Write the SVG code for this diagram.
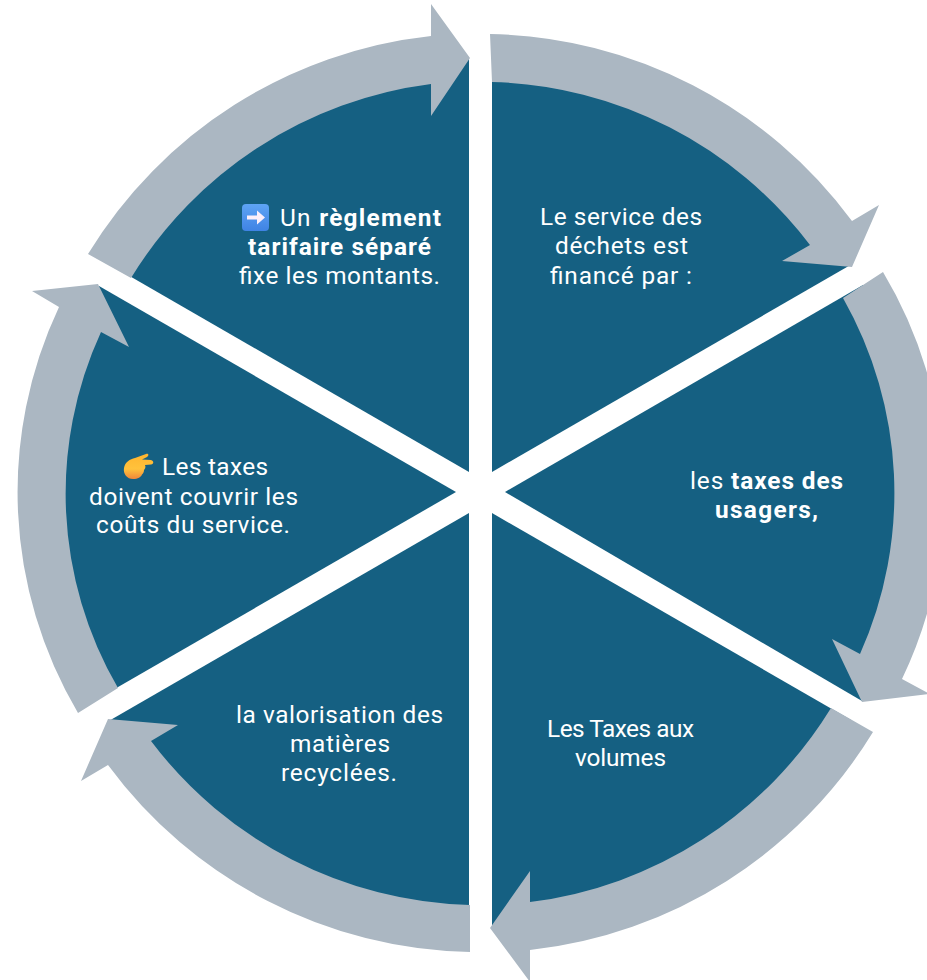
<svg xmlns="http://www.w3.org/2000/svg" width="927" height="980" viewBox="0 0 927 980">
<defs>
<linearGradient id="hand" x1="0" y1="0" x2="0" y2="1"><stop offset="0" stop-color="#ffb52e"/><stop offset="0.6" stop-color="#ffc23c"/><stop offset="1" stop-color="#f0863a"/></linearGradient>
<linearGradient id="sq" x1="0" y1="0" x2="0" y2="1"><stop offset="0" stop-color="#5ea4f5"/><stop offset="1" stop-color="#3f83e4"/></linearGradient>
</defs>
<style>
.w{fill:#156082}
.a{fill:#abb7c2}
text{font-family:Roboto,"Noto Sans","Liberation Sans",sans-serif;font-size:24.4px;fill:#fff;text-anchor:middle}
.b{font-weight:700}
</style>
<rect width="927" height="980" fill="#fff"/>
<g id="node-1"><path class="w" d="M492 472V58.2A435 435 0 0 1 850 265.3Z"/>
<text x="621" y="225" textLength="162">Le service des</text><text x="621.500" y="254" textLength="133">déchets est</text><text x="621" y="284" textLength="142">financé par :</text></g>
<g id="node-2"><path class="w" d="M505 492L863 285A435 435 0 0 1 862 701Z"/>
<text x="766.500" y="489" textLength="153">les <tspan class="b">taxes des</tspan></text><text x="766.500" y="518" class="b" textLength="103">usagers,</text></g>
<g id="node-3"><path class="w" d="M492 513L851 720A435 435 0 0 1 492 927.800Z"/>
<text x="620.500" y="737" textLength="147">Les Taxes aux</text><text x="620.500" y="766" textLength="91">volumes</text></g>
<g id="node-4"><path class="w" d="M469 513V927.800A435 435 0 0 1 110.500 720Z"/>
<text x="339.500" y="723" textLength="207">la valorisation des</text><text x="340" y="752" textLength="100">matières</text><text x="339" y="781" textLength="116">recyclées.</text></g>
<g id="node-5"><path class="w" d="M456 492L99 698A435 435 0 0 1 99 286Z"/>
<path d="M124 468C125 462 130 459 135 458L146 454C149 453 149 456 147 457L142 459.500L151 460C154 461 154 464 151 464.500L145 465C146 467 145 469 144 470C144 472 143 473.500 142 474.500C141 477 138 479 133 479C127 479 123 474 124 468Z" fill="url(#hand)"/>
<text x="215" y="475" textLength="106">Les taxes</text><text x="193.500" y="505" textLength="209">doivent couvrir les</text><text x="193" y="533" textLength="194">coûts du service.</text></g>
<g id="node-6"><path class="w" d="M469 472L110.500 265A435 435 0 0 1 469 58.200Z"/>
<rect x="242" y="204" width="27" height="27" rx="4" fill="url(#sq)"/>
<path d="M247 215.500H257V210.500L265 217.500L257 224.500V219.500H247Z" fill="#fbeffa"/>
<text x="360.500" y="226" textLength="161">Un <tspan class="b">règlement</tspan></text><text x="339.500" y="255" class="b" textLength="183">tarifaire séparé</text><text x="339.500" y="284" textLength="201">fixe les montants.</text></g>
<g id="connectors">
<path class="a" d="M490 34A460 460 0 0 1 852 221L879 205L852 267L782 261L810 245A413 413 0 0 0 492 82Z"/>
<path class="a" d="M883 272A430 430 0 0 1 902 679L930 694L862 702L832 639L860 654A395 395 0 0 0 843 298Z"/>
<path class="a" d="M873 732A460 460 0 0 1 530 950V982L490 928L530 871V902A413 413 0 0 0 831 708Z"/>
<path class="a" d="M470 952A460 460 0 0 1 108 765L81 781L108 719L178 725L151 741A413 413 0 0 0 470 905Z"/>
<path class="a" d="M78 713A434 434 0 0 1 59 307L32 291L98 284L129 347L101 332A387 387 0 0 0 118 688Z"/>
<path class="a" d="M88 254A460 460 0 0 1 431 36V4L470 58L431 116V84A413 413 0 0 0 131 278Z"/>
</g>
</svg>
